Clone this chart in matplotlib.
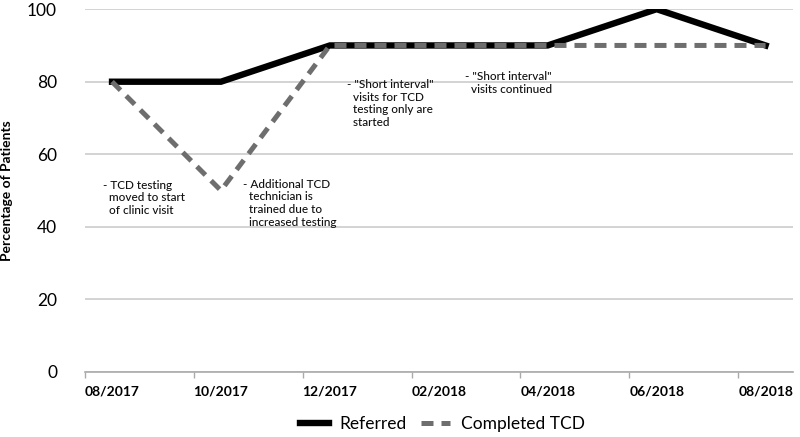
import matplotlib.pyplot as plt

plt.rcParams['font.family'] = ['Lato', 'DejaVu Sans']

months = ["08/2017", "10/2017", "12/2017", "02/2018", "04/2018", "06/2018", "08/2018"]
referred = [80, 80, 90, 90, 90, 100, 90]
completed = [80, 50, 90, 90, 90, 90, 90]
y_ticks = [0, 20, 40, 60, 80, 100]

notes = [
    (-0.08, 53, "- TCD testing\n  moved to start\n  of clinic visit"),
    (1.2, 53.3, "- Additional TCD\n  technician is\n  trained due to\n  increased testing"),
    (2.16, 80.8, "- \"Short interval\"\n  visits for TCD\n  testing only are\n  started"),
    (3.24, 83, "- \"Short interval\"\n  visits continued"),
]

fig = plt.figure(figsize=(8, 4.37), dpi=100)
ax = fig.add_axes([0.106, 0.149, 0.885, 0.83])

x = list(range(len(months)))
ax.plot(x, referred, color='black', lw=4.6, solid_joinstyle='miter', label='Referred', zorder=3)
ax.plot(x, completed, color='#6e6e6e', lw=3.6, dashes=(2.4, 1.6), dash_capstyle='butt',
        label='Completed TCD', zorder=4)

for nx, ny, txt in notes:
    ax.text(nx, ny, txt, fontsize=8.5, va='top', ha='left', linespacing=1.2,
            color='#111111', fontweight='medium')

ax.set_xlim(-0.25, 6.25)
ax.set_ylim(0, 100)
ax.set_yticks(y_ticks)
ax.set_xticks([i - 0.25 for i in x])
ax.set_xticklabels([])
ax.set_xticks(x, minor=True)
ax.set_xticklabels(months, minor=True, fontsize=10, fontweight='bold')
ax.tick_params(axis='x', which='minor', length=0, pad=10)
ax.tick_params(axis='x', which='major', length=4, color='#aaaaaa', width=1)
ax.tick_params(axis='y', length=0, labelsize=12.5, pad=20)
ax.grid(axis='y', color='#cccccc', lw=1.2)
ax.set_axisbelow(True)
for s in ['top', 'right', 'left']:
    ax.spines[s].set_visible(False)
ax.spines['bottom'].set_color('#aaaaaa')
ax.spines['bottom'].set_linewidth(1.2)
ax.set_ylabel('Percentage of Patients', fontsize=10, fontweight='bold', labelpad=10)

fig.legend(loc='lower center', bbox_to_anchor=(0.553, -0.025), ncol=2, frameon=False,
           fontsize=12.5, handlelength=1.7, columnspacing=0.8, handletextpad=0.6)

fig.savefig('out.png', dpi=100)
